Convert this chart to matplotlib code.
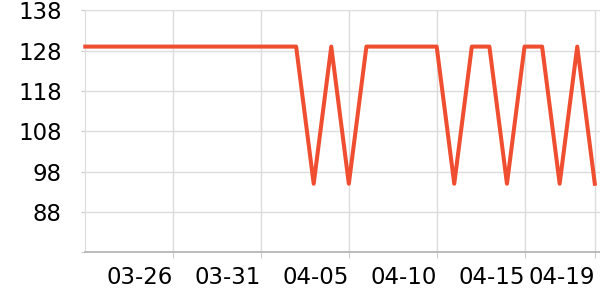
import matplotlib
matplotlib.use("Agg")
import matplotlib.pyplot as plt
import datetime as dt

start = dt.date(2020, 3, 21)
dates = [(start + dt.timedelta(days=i)).strftime("%m-%d") for i in range(30)]
values = [129] * 13 + [95, 129, 95, 129, 129, 129, 129, 129, 95, 129, 129, 95,
                       129, 129, 95, 129, 95]
tick_labels = ["03-26", "03-31", "04-05", "04-10", "04-15", "04-19"]
y_ticks = [88, 98, 108, 118, 128, 138]

fig = plt.figure(figsize=(6, 3), dpi=100)
W, H = 600, 300
x0, x1, ytop, ybot = 85.3, 600, 10.3, 252.3
ax = fig.add_axes([x0 / W, 1 - ybot / H, (x1 - x0) / W, (ybot - ytop) / H])

xs = list(range(len(dates)))
ax.plot(xs, values, color="#ef4e30", lw=2.9, solid_joinstyle="round", zorder=3, clip_on=False)

step = (594.8 - x0) / 29
ax.set_xlim(0, (x1 - x0) / step)
ax.set_ylim(78, 138)

tick_pos = [dates.index(t) for t in tick_labels]
ax.set_xticks(tick_pos)
ax.set_xticklabels(tick_labels, ha="right")
for lbl, t in zip(ax.get_xticklabels(), tick_labels):
    if t == tick_labels[-1]:
        lbl.set_x(dates.index(t))
ax.set_yticks([78] + y_ticks)
ax.set_yticklabels([""] + [str(v) for v in y_ticks])

ax.grid(True, color="#dcdcdc", lw=1)
ax.set_axisbelow(True)
for s in ["top", "right"]:
    ax.spines[s].set_visible(False)
ax.spines["left"].set_color("#dcdcdc")
ax.spines["bottom"].set_color("#b0b0b0")
ax.spines["bottom"].set_linewidth(1.2)
ax.tick_params(axis="y", length=3, color="#cccccc", labelsize=16.5, pad=14)
ax.tick_params(axis="x", length=4, color="#cccccc", labelsize=16.5, pad=6)

fig.savefig("out.png", dpi=100)
